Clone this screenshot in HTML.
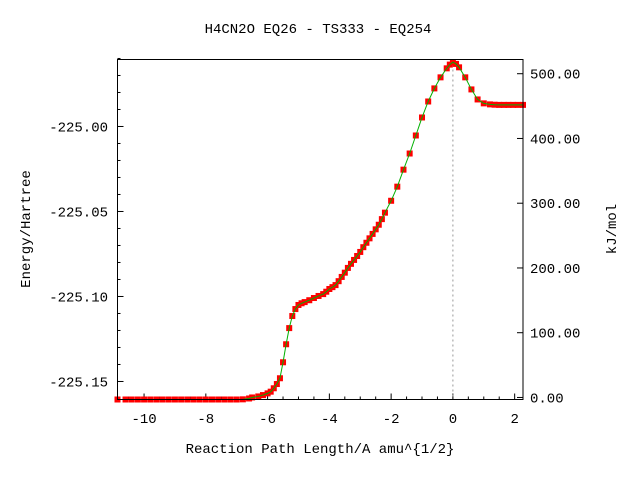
<!DOCTYPE html>
<html><head><meta charset="utf-8">
<style>
body{margin:0;background:#fff;}
svg text{font-family:"Liberation Mono","DejaVu Sans Mono",monospace;font-size:14px;fill:#000;}
</style></head>
<body>
<svg id="chart" width="640" height="480" xmlns="http://www.w3.org/2000/svg">
<rect width="640" height="480" fill="#fff"/>
<text x="318" y="33" text-anchor="middle">H4CN2O   EQ26 - TS333 - EQ254</text>
<text transform="translate(30,229) rotate(-90)" text-anchor="middle">Energy/Hartree</text>
<text transform="translate(616,229) rotate(-90)" text-anchor="middle">kJ/mol</text>
<text x="320" y="453" text-anchor="middle">Reaction Path Length/A amu^{1/2}</text>
<g id="ticks"></g>
<line id="tsline" stroke="#999" stroke-dasharray="2,3" stroke-width="1"/>
<g id="marks"></g>
<rect x="117.5" y="59.5" width="405.5" height="340" fill="none" stroke="#000" stroke-width="1"/>
</svg>
<script>
const xs=[-10.86,-10.6,-10.4,-10.2,-10.0,-9.8,-9.6,-9.4,-9.2,-9.0,-8.8,-8.6,-8.4,-8.2,-8.0,-7.8,-7.6,-7.4,-7.2,-7.0,-6.8,-6.6,-6.5,-6.3,-6.15,-6.0,-5.9,-5.8,-5.7,-5.6,-5.5,-5.4,-5.3,-5.2,-5.1,-5.0,-4.9,-4.8,-4.65,-4.5,-4.35,-4.2,-4.1,-4.0,-3.9,-3.8,-3.7,-3.6,-3.5,-3.4,-3.3,-3.2,-3.1,-3.0,-2.9,-2.8,-2.7,-2.6,-2.5,-2.4,-2.3,-2.2,-2.0,-1.8,-1.6,-1.4,-1.2,-1.0,-0.8,-0.6,-0.4,-0.2,-0.1,0,0.1,0.2,0.4,0.6,0.8,1.0,1.2,1.35,1.5,1.65,1.8,1.95,2.1,2.27];
const energies=[-225.1606,-225.1606,-225.1606,-225.1606,-225.1606,-225.1606,-225.1606,-225.1606,-225.1606,-225.1606,-225.1606,-225.1606,-225.1606,-225.1606,-225.1606,-225.1606,-225.1606,-225.1606,-225.1606,-225.1606,-225.1605,-225.1600,-225.1594,-225.1588,-225.1580,-225.1570,-225.1560,-225.1540,-225.1515,-225.1481,-225.1387,-225.1281,-225.1186,-225.1115,-225.1074,-225.1050,-225.1040,-225.1033,-225.1022,-225.1009,-225.0997,-225.0986,-225.0972,-225.0956,-225.0945,-225.0933,-225.0910,-225.0885,-225.0860,-225.0832,-225.0808,-225.0785,-225.0762,-225.0738,-225.0710,-225.0684,-225.0658,-225.0632,-225.0605,-225.0578,-225.0545,-225.0507,-225.0437,-225.0354,-225.0254,-225.0159,-225.0053,-224.9947,-224.9853,-224.9776,-224.9711,-224.9658,-224.9636,-224.9622,-224.9632,-224.9652,-224.9711,-224.9782,-224.9841,-224.9864,-224.9870,-224.9872,-224.9873,-224.9873,-224.9873,-224.9873,-224.9873,-224.9873];
const xTicks=[-10,-8,-6,-4,-2,0,2];
const yTicks=[-225.15,-225.10,-225.05,-225.00];
const y2Ticks=[0,100,200,300,400,500];
const eRef=-225.1594, kjPerHartree=2625.5;

const X0=117.5,X1=523,Y0=399.5,Y1=59.5;
const xmin=-10.86,xmax=2.27,ymin=-225.1606,ymax=-224.9606;
const sx=v=>X0+(v-xmin)/(xmax-xmin)*(X1-X0);
const sy=v=>Y0-(v-ymin)/(ymax-ymin)*(Y0-Y1);
const NS="http://www.w3.org/2000/svg";
function mk(tag,attrs,parent){const e=document.createElementNS(NS,tag);for(const k in attrs)e.setAttribute(k,attrs[k]);parent.appendChild(e);return e;}
const tg=document.getElementById('ticks');
for(let v=-10.5;v<=2.01;v+=0.5){const x=sx(v);const major=Math.abs(v-Math.round(v/2)*2)<1e-6;
 const l=mk('line',{x1:x,x2:x,y1:Y0,y2:Y0-(major?6:3),stroke:'#000'},tg);
 
 }
xTicks.forEach(v=>{const t=mk('text',{x:sx(v),y:423,'text-anchor':'middle'},tg);t.textContent=String(v).replace('-','−').replace('−','-');
 
 });
for(let v=-225.16;v<=-224.96;v+=0.01){const y=sy(v);const major=Math.abs(v/0.05-Math.round(v/0.05))<1e-4;
 const l=mk('line',{x1:X0,x2:X0+(major?6:3),y1:y,y2:y,stroke:'#000'},tg);
 
 }
yTicks.forEach(v=>{const t=mk('text',{x:108,y:sy(v)+5,'text-anchor':'end'},tg);t.textContent=v.toFixed(2);
 
 });
y2Ticks.forEach(v=>{const y=sy(eRef+v/kjPerHartree);
 const l=mk('line',{x1:X1,x2:X1-6,y1:y,y2:y,stroke:'#000'},tg);
 
 
 const t=mk('text',{x:530,y:y+5},tg);t.textContent=v.toFixed(2);
 
 });
const ts=document.getElementById('tsline');
ts.setAttribute('x1',sx(0));ts.setAttribute('x2',sx(0));ts.setAttribute('y1',Y1);ts.setAttribute('y2',Y0);
const mg=document.getElementById('marks');
xs.forEach((v,i)=>{const r=mk('rect',{x:sx(v)-3,y:sy(energies[i])-3,width:6,height:6,fill:'#f00'},mg);
 
 });
const p=mk('polyline',{points:xs.map((v,i)=>sx(v)+','+sy(energies[i])).join(' '),fill:'none',stroke:'#00b000','stroke-width':1},mg);


</script>
</body></html>
